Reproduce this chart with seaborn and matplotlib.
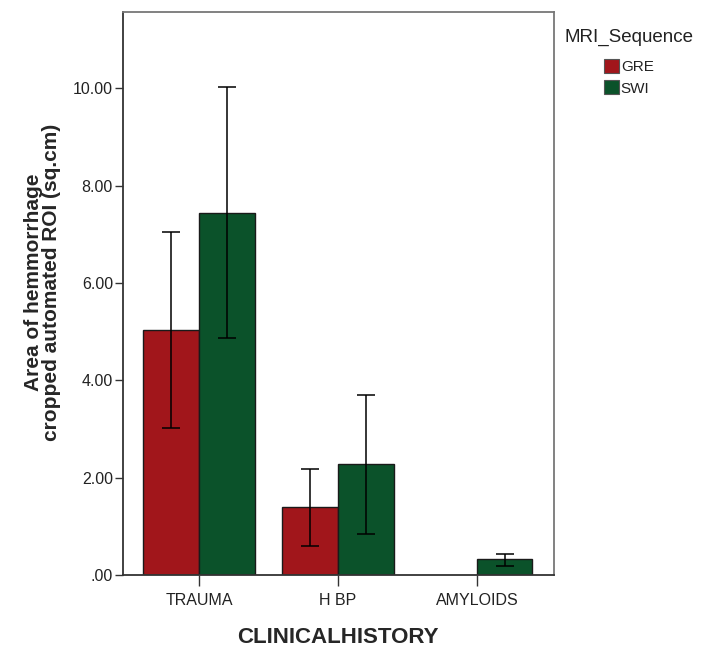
# SPSS-style clustered bar chart with error bars
import numpy as np
import pandas as pd
import matplotlib
matplotlib.use('Agg')
import matplotlib.pyplot as plt
from matplotlib.ticker import FuncFormatter
import seaborn as sns

# Data
history = ['TRAUMA', 'H BP', 'AMYLOIDS']
sequences = ['GRE', 'SWI']
gre_mean = [5.03, 1.40, np.nan]
gre_low = [3.02, 0.60, np.nan]
gre_high = [7.05, 2.18, np.nan]
swi_mean = [7.44, 2.29, 0.33]
swi_low = [4.87, 0.85, 0.19]
swi_high = [10.02, 3.69, 0.44]

df = pd.DataFrame({
    'CLINICALHISTORY': history * 2,
    'MRI_Sequence': ['GRE'] * 3 + ['SWI'] * 3,
    'area': gre_mean + swi_mean,
    'low': gre_low + swi_low,
    'high': gre_high + swi_high,
})

sns.set_style('white')
plt.rcParams['font.family'] = ['Liberation Sans', 'DejaVu Sans']

fig = plt.figure(figsize=(7.02, 6.5), dpi=100)
ax = fig.add_axes([0.1748, 0.1154, 0.6142, 0.8666])

palette = {'GRE': '#A1161B', 'SWI': '#0B522A'}
sns.barplot(data=df, x='CLINICALHISTORY', y='area', hue='MRI_Sequence',
            order=history, hue_order=sequences, palette=palette,
            errorbar=None, width=0.8, edgecolor='#1a1a1a', linewidth=1.0,
            saturation=1, ax=ax)

# error bars centred on each drawn bar
for seq, cont in zip(sequences, ax.containers):
    sub = df[df['MRI_Sequence'] == seq].set_index('CLINICALHISTORY').loc[history]
    for bar, (_, row) in zip(cont, sub.iterrows()):
        if np.isnan(row['area']):
            continue
        xc = bar.get_x() + bar.get_width() / 2
        ax.errorbar(xc, row['area'],
                    yerr=[[row['area'] - row['low']], [row['high'] - row['area']]],
                    fmt='none', ecolor='black', elinewidth=1.1, capsize=6.5,
                    capthick=1.1, zorder=5)

ax.set_xlim(-0.549, 2.554)
ax.set_ylim(0, 11.57)
ax.set_yticks([0, 2, 4, 6, 8, 10])
ax.yaxis.set_major_formatter(FuncFormatter(lambda v, p: '.00' if v == 0 else f'{v:.2f}'))

for side in ['left', 'bottom']:
    ax.spines[side].set_color('#333333')
    ax.spines[side].set_linewidth(1.3)
for side in ['top', 'right']:
    ax.spines[side].set_color('#777777')
    ax.spines[side].set_linewidth(1.3)

ax.tick_params(axis='y', direction='out', length=6, width=1, color='#333333',
               labelsize=11.5, labelcolor='#222222', pad=1, left=True)
ax.tick_params(axis='x', direction='out', length=8, width=1, color='#333333',
               labelsize=11.5, labelcolor='#222222', pad=5, bottom=True)

ax.set_xlabel('CLINICALHISTORY', fontsize=16, fontweight='bold', labelpad=14)
ax.set_ylabel('Area of hemmorrhage\ncropped automated ROI (sq.cm)',
              fontsize=15, fontweight='bold', labelpad=6, linespacing=0.95)
ax.yaxis.set_label_coords(-0.143, 0.52)

# legend outside to the right, SPSS style: title and indented swatches
fig.text(565 / 702, 1 - 37 / 650, 'MRI_Sequence', ha='left', va='center',
         fontsize=13.5, color='#222222')
handles, labels = ax.get_legend_handles_labels()
leg = ax.legend(handles, labels, loc='upper left',
                bbox_to_anchor=(604 / 702, 1 - 59 / 650),
                bbox_transform=fig.transFigure, frameon=False, fontsize=11,
                handlelength=1.0, handleheight=1.0, handletextpad=0.1,
                labelspacing=0.42, borderpad=0, borderaxespad=0)
for t in leg.texts:
    t.set_color('#222222')
for h in leg.legend_handles:
    h.set_edgecolor('#555555')
    h.set_linewidth(0.8)

fig.savefig('out.png', dpi=100)
